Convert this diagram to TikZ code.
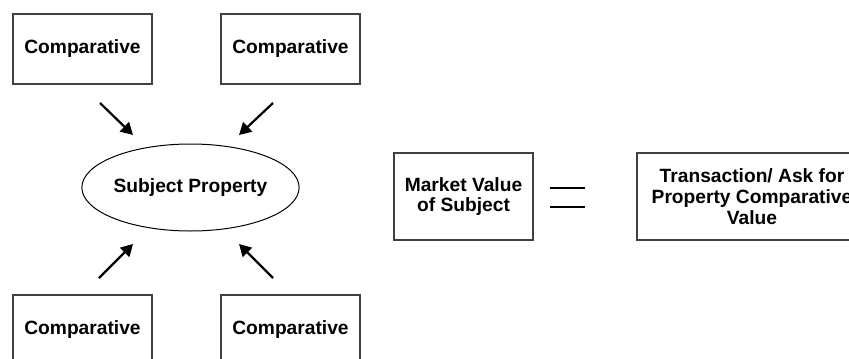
\documentclass[tikz,border=0pt]{standalone}
\usepackage{fontspec}
\setmainfont{Liberation Sans}
\usetikzlibrary{arrows.meta,shapes.geometric}

\begin{document}
\begin{tikzpicture}[x=0.5pt,y=-0.5pt,
  box/.style={draw=black!75, line width=0.6pt, inner sep=0pt, align=center,
    font=\bfseries\fontsize{9.6}{10.4}\selectfont},
  comp/.style={box, minimum width=69.5pt, minimum height=35pt},
  arr/.style={-{Triangle[length=6pt,width=6.5pt]}, line width=1.1pt}]
\clip (0,0) rectangle (849,358);
% the four comparatives
\node [comp] (compTL) at (82.5,49) {Comparative};
\node [comp] (compTR) at (290.5,49) {Comparative};
\node [comp] (compBL) at (82.5,330) {Comparative};
\node [comp] (compBR) at (290.5,330) {Comparative};
\node [ellipse, draw, line width=0.5pt, inner sep=0pt, minimum width=91.5pt,
  minimum height=43.5pt, font=\bfseries\fontsize{9.6}{10.4}\selectfont]
  (subject) at (190.5,187.5) {Subject Property};
% arrows pointing in
\coordinate (tlA) at (100,103);  \coordinate (tlB) at (133,135);
\coordinate (trA) at (273,103);  \coordinate (trB) at (239,135);
\coordinate (blA) at (99,278);   \coordinate (blB) at (133,244);
\coordinate (brA) at (273,278);  \coordinate (brB) at (239,244);
\draw [arr] (tlA) -- (tlB);
\draw [arr] (trA) -- (trB);
\draw [arr] (blA) -- (blB);
\draw [arr] (brA) -- (brB);
% market value = transaction
\node [box, minimum width=69.5pt, minimum height=43.5pt] (market) at (463.5,196.5)
  {Market Value\\of Subject};
\node [box, minimum width=115pt, minimum height=43.5pt] (trans) at (752,196.5)
  {Transaction/ Ask for\\Property Comparative\\Value};
\coordinate (eqA) at (550,188);  \coordinate (eqB) at (585,188);
\coordinate (eqC) at (550,207);  \coordinate (eqD) at (585,207);
\draw [line width=1pt] (eqA) -- (eqB);
\draw [line width=1pt] (eqC) -- (eqD);
\end{tikzpicture}
\end{document}
